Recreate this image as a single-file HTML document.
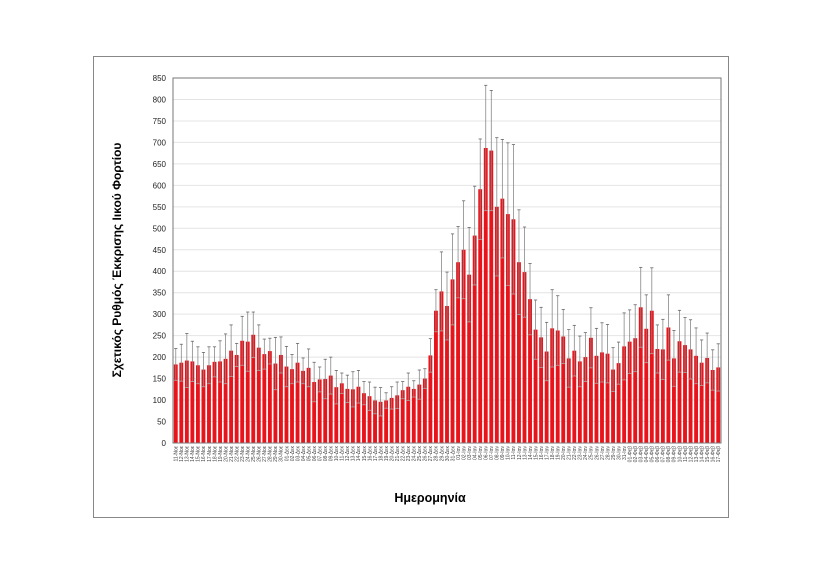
<!DOCTYPE html>
<html><head><meta charset="utf-8"><style>
html,body{margin:0;padding:0;background:#fff;width:825px;height:583px;overflow:hidden}
svg{display:block}
text{font-family:"Liberation Sans","DejaVu Sans",sans-serif}
</style></head><body>
<svg id="s" width="825" height="583" xmlns="http://www.w3.org/2000/svg">
<rect x="93.5" y="56.5" width="635" height="461" fill="#fff" stroke="#888" stroke-width="1"/>
<g id="g"></g>
<text x="0" y="0" transform="translate(121,260) rotate(-90)" text-anchor="middle" font-size="12" font-weight="bold" fill="#000">Σχετικός Ρυθμός Έκκρισης Ιικού Φορτίου</text>
<text x="430" y="502" text-anchor="middle" font-size="12.5" font-weight="bold" fill="#000">Ημερομηνία</text>
</svg>
<script>
var v=[183,187,192,190,181,171,181,189,190,196,215,205,238,236,252,222,207,214,185,205,178,172,187,168,175,142,148,149,157,130,139,126,125,131,116,109,99,96,99,105,111,123,131,126,136,150,204,308,
353,319,381,421,450,392,483,591,687,681,550,569,533,521,421,398,335,264,246,213,267,262,248,197,215,190,200,245,203,211,208,171,186,225,236,244,316,266,308,219,218,269,197,237,228,218,203,187,198,170,176];
var up=[220,230,255,237,224,211,224,224,238,254,275,232,295,305,305,275,242,244,246,247,225,206,232,198,219,188,177,195,200,169,163,158,166,169,143,142,130,129,117,131,142,143,163,145,170,173,243,357,
445,398,487,504,564,502,598,708,833,821,711,707,699,695,543,503,418,333,316,281,357,343,311,264,274,249,257,315,267,280,276,222,235,303,310,322,409,345,408,275,288,345,262,309,292,287,268,240,256,217,231];
var L=173,R=721,T=78,B=443,k=(B-T)/850,n=v.length,p=(R-L)/n;
var h='';
for(var i=0;i<=850;i+=50){var y=B-i*k;
 if(i>0)h+='<line x1="'+L+'" x2="'+R+'" y1="'+y+'" y2="'+y+'" stroke="#e4e4e4" stroke-width="1"/>';
 h+='<text x="'+(L-7)+'" y="'+(y+3)+'" text-anchor="end" font-size="8" fill="#222">'+i+'</text>';}
var mon=['Νοε','Δεκ','Ιαν','Φεβ'],dl=[30,31,31,28];
var d=11,m=0;
for(var i=0;i<n;i++){
 var x=L+i*p+p*0.15,w=p*0.7,y=B-v[i]*k,cx=x+w/2;
 h+='<rect x="'+x+'" y="'+y+'" width="'+w+'" height="'+(B-y)+'" fill="#e8141b"/>';
 var u=Math.max(up[i]||v[i]+40,v[i]+5),e=u-v[i],lo=Math.max(0,v[i]-e);
 var yu=B-u*k,yl=B-lo*k;
 h+='<line x1="'+cx+'" x2="'+cx+'" y1="'+yu+'" y2="'+yl+'" stroke="#888" stroke-width="0.8"/>';
 h+='<line x1="'+(cx-1.6)+'" x2="'+(cx+1.6)+'" y1="'+yu+'" y2="'+yu+'" stroke="#666" stroke-width="0.8"/>';
 h+='<line x1="'+(cx-1.6)+'" x2="'+(cx+1.6)+'" y1="'+yl+'" y2="'+yl+'" stroke="#aaa" stroke-width="0.8"/>';
 var lab=(d<10?'0':'')+d+'-'+mon[m];
 h+='<text transform="translate('+(cx+1.8)+','+(B+3)+') rotate(-90)" text-anchor="end" font-size="5" fill="#444">'+lab+'</text>';
 d++;if(d>dl[m]){d=1;m++;}
}
h+='<rect x="'+L+'" y="'+T+'" width="'+(R-L)+'" height="'+(B-T)+'" fill="none" stroke="#777" stroke-width="1"/>';
document.getElementById('g').innerHTML=h;
</script>
</body></html>
